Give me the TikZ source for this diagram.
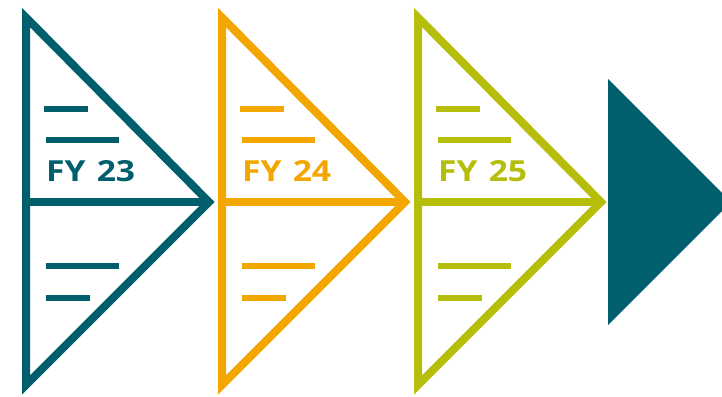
\documentclass[tikz,border=0pt]{standalone}
\usepackage{fontspec}
\setmainfont{Open Sans}
\definecolor{cteal}{HTML}{005E6D}
\definecolor{corange}{HTML}{F4A600}
\definecolor{colive}{HTML}{B4BE0B}
\tikzset{
  tri/.style={line width=8pt, miter limit=10},
  dashln/.style={line width=6pt},
  fylabel/.style={anchor=base west, inner sep=0pt, font=\fontsize{29}{30}\selectfont\bfseries}
}
\newcommand{\fishtri}[3]{%
  % #1 left x, #2 colour, #3 label, names suffixed
  \coordinate (t#3) at (#1,17.5);
  \coordinate (a#3) at (#1+183,202);
  \coordinate (b#3) at (#1,385);
  \coordinate (m#3) at (#1,202);
  \draw[tri, draw=#2] (t#3) -- (a#3) -- (b#3) -- cycle;
  \draw[tri, draw=#2] (m#3) -- (a#3);
  \coordinate (p1#3) at (#1+18,109); \coordinate (q1#3) at (#1+62,109);
  \coordinate (p2#3) at (#1+20,140); \coordinate (q2#3) at (#1+93,140);
  \coordinate (p3#3) at (#1+20,266); \coordinate (q3#3) at (#1+93,266);
  \coordinate (p4#3) at (#1+20,298); \coordinate (q4#3) at (#1+64,298);
  \draw[dashln, draw=#2] (p1#3) -- (q1#3);
  \draw[dashln, draw=#2] (p2#3) -- (q2#3);
  \draw[dashln, draw=#2] (p3#3) -- (q3#3);
  \draw[dashln, draw=#2] (p4#3) -- (q4#3);
  \node[fylabel, text=#2] (fy#3) at (#1+20,181) {\scalebox{1.16}[1]{FY\hspace{0.33em}#3}};
}
\begin{document}
\begin{tikzpicture}[x=1pt,y=-1pt]
\useasboundingbox (0,0) rectangle (722,396);
\clip (0,0) rectangle (722,396);
\fishtri{26}{cteal}{23}
\fishtri{222}{corange}{24}
\fishtri{418}{colive}{25}
\coordinate (h1) at (608,79);
\coordinate (h2) at (731,202);
\coordinate (h3) at (608,325);
\fill[cteal] (h1) -- (h2) -- (h3) -- cycle;
\end{tikzpicture}
\end{document}
